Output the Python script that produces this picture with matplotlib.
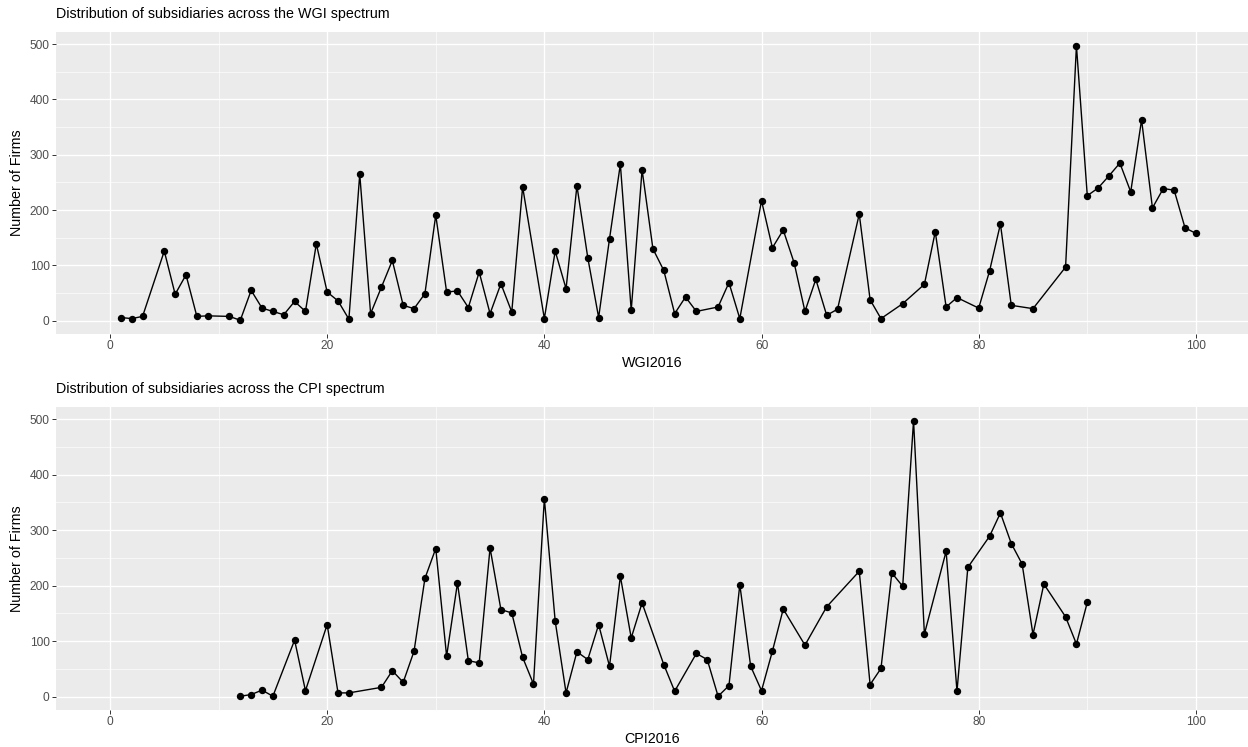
import numpy as np
import matplotlib
matplotlib.use('Agg')
import matplotlib.pyplot as plt
from matplotlib.ticker import MultipleLocator

plt.rcParams['font.family'] = ['Liberation Sans', 'DejaVu Sans']

# WGI2016 score vs number of firms
wgi_x = [1, 2, 3, 5, 6, 7, 8, 9, 11, 12, 13, 14, 15, 16, 17, 18, 19, 20, 21, 22,
         23, 24, 25, 26, 27, 28, 29, 30, 31, 32, 33, 34, 35, 36, 37, 38, 40, 41, 42, 43,
         44, 45, 46, 47, 48, 49, 50, 51, 52, 53, 54, 56, 57, 58, 60, 61, 62, 63, 64, 65,
         66, 67, 69, 70, 71, 73, 75, 76, 77, 78, 80, 81, 82, 83, 85, 88, 89, 90, 91, 92,
         93, 94, 95, 96, 97, 98, 99, 100]
wgi_firms = [6, 4, 8, 126, 48, 83, 8, 9, 8, 1, 55, 23, 17, 11, 35, 17, 139, 52, 36, 3,
             265, 13, 61, 109, 28, 22, 49, 191, 52, 54, 24, 88, 13, 67, 16, 242, 4, 126, 58, 244,
             114, 6, 148, 283, 19, 273, 130, 91, 13, 43, 17, 25, 69, 4, 217, 132, 164, 105, 17, 75,
             10, 21, 193, 38, 4, 31, 66, 161, 25, 42, 23, 90, 175, 28, 22, 97, 497, 226, 240, 262,
             285, 233, 363, 204, 239, 236, 168, 158]

# CPI2016 score vs number of firms
cpi_x = [12, 13, 14, 15, 17, 18, 20, 21, 22, 25, 26, 27, 28, 29, 30, 31, 32, 33, 34, 35,
         36, 37, 38, 39, 40, 41, 42, 43, 44, 45, 46, 47, 48, 49, 51, 52, 54, 55, 56, 57,
         58, 59, 60, 61, 62, 64, 66, 69, 70, 71, 72, 73, 74, 75, 77, 78, 79, 81, 82, 83,
         84, 85, 86, 88, 89, 90]
cpi_firms = [1, 4, 12, 1, 102, 11, 130, 7, 7, 17, 47, 26, 82, 213, 267, 73, 205, 65, 61, 268,
             157, 151, 71, 23, 357, 136, 7, 81, 67, 130, 55, 217, 106, 169, 58, 10, 78, 67, 1, 20,
             202, 55, 11, 82, 158, 93, 162, 226, 22, 51, 223, 199, 497, 113, 262, 10, 233, 289, 331, 276,
             239, 112, 203, 144, 95, 170]

W, H = 1248, 747
fig = plt.figure(figsize=(W / 100, H / 100), dpi=100)

panels = [
    (wgi_x, wgi_firms, 'WGI2016', 'Distribution of subsidiaries across the WGI spectrum', 32, 334),
    (cpi_x, cpi_firms, 'CPI2016', 'Distribution of subsidiaries across the CPI spectrum', 407, 710),
]

left = 55.7
for x, y, xlabel, title, top, bottom in panels:
    ax = fig.add_axes([left / W, 1 - bottom / H, (W - left) / W, (bottom - top) / H])
    ax.set_facecolor('#EBEBEB')
    for s in ax.spines.values():
        s.set_visible(False)

    ax.plot(x, y, color='black', lw=1.0, marker='o', markersize=4.3, zorder=3)

    ax.set_xlim(-5, 104.8)
    ax.set_ylim(-23.8, 521.8)
    ax.xaxis.set_major_locator(MultipleLocator(20))
    ax.xaxis.set_minor_locator(MultipleLocator(10))
    ax.yaxis.set_major_locator(MultipleLocator(100))
    ax.yaxis.set_minor_locator(MultipleLocator(50))
    ax.grid(which='major', color='white', lw=0.95)
    ax.grid(which='minor', color='white', lw=0.45)
    ax.set_axisbelow(True)
    ax.tick_params(which='major', length=2.7, width=0.7, color='#333333',
                   labelcolor='#4D4D4D', labelsize=8.6, pad=1.8)
    ax.tick_params(which='minor', length=0)

    ax.set_xlabel(xlabel, fontsize=10.3, labelpad=3)
    ax.set_ylabel('Number of Firms', fontsize=10.3, labelpad=4)
    fig.text(left / W, 1 - (top - 18) / H, title, fontsize=10.3, ha='left', va='center')

fig.savefig('out.png', dpi=100)
